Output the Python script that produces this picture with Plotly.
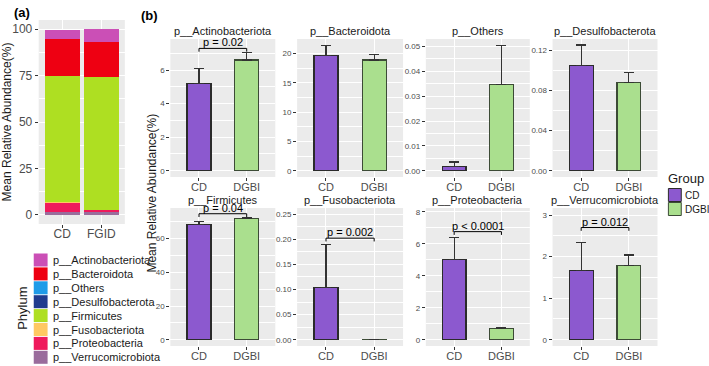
import plotly.graph_objects as go

# ---------------- data ----------------
phyla = ["p__Actinobacteriota", "p__Bacteroidota", "p__Others", "p__Desulfobacterota",
         "p__Firmicutes", "p__Fusobacteriota", "p__Proteobacteria", "p__Verrucomicrobiota"]
phylum_colors = ["#CB4FB6", "#EE0012", "#1F9BE8", "#203C8E",
                 "#AEDF22", "#FFC862", "#EF1A5C", "#9A6C9C"]
stack_groups = ["CD", "FGID"]
stack_cd = [5.2, 19.7, 0.0015, 0.104, 68.0, 0.105, 5.05, 1.67]
stack_fgid = [6.6, 18.9, 0.035, 0.087, 71.8, 0.0, 0.72, 1.77]

groups = ["CD", "DGBI"]
group_colors = ["#8C59CF", "#AADF8E"]
group_edge = ["#2B2B2B", "#3C4B36"]
mean_cd = [5.22, 19.7, 0.0018, 0.1045, 68.2, 0.1046, 5.03, 1.67]
sd_cd = [0.88, 1.7, 0.0017, 0.0205, 2.0, 0.085, 1.37, 0.67]
mean_dgbi = [6.6, 18.9, 0.0346, 0.088, 71.8, 0.0003, 0.72, 1.78]
sd_dgbi = [0.43, 0.9, 0.0157, 0.0095, 0.8, 0.0002, 0.06, 0.26]
y_dtick = [2, 5, 0.01, 0.04, 20, 0.05, 2, 1]
y_fmt = ["d", "d", ".2f", ".2f", "d", ".2f", "d", "d"]
y_upper = [7.85, 22.47, 0.053, 0.131, 78.2, 0.262, 8.25, 3.17]
p_labels = ["p = 0.02", None, None, None, "p = 0.04", "p = 0.002", "p < 0.0001", "p = 0.012"]
p_bracket = [7.29, None, None, None, 74.8, 0.202, 6.77, 2.70]

# ---------------- layout helpers ----------------
W, H = 709, 366
FONT = "Liberation Sans, Arial, sans-serif"
def px_x(v):
    return v / W
def px_y(v):
    return 1 - v / H

fig = go.Figure()

# Panel (a): stacked bars
for i in reversed(range(len(phyla))):
    fig.add_trace(go.Bar(
        x=[0, 1], y=[stack_cd[i], stack_fgid[i]], width=0.9,
        marker=dict(color=phylum_colors[i], line=dict(width=0)),
        xaxis="x", yaxis="y", showlegend=False, name=phyla[i]))

layout = dict(
    width=W, height=H, margin=dict(l=0, r=0, t=0, b=0),
    paper_bgcolor="white", plot_bgcolor="#EBEBEB",
    barmode="stack", showlegend=False,
    font=dict(family=FONT, color="#4D4D4D"),
)
layout["xaxis"] = dict(domain=[px_x(32), px_x(119)], anchor="y", range=[-0.6, 1.6],
                       tickvals=[0, 1], ticktext=stack_groups, showgrid=True, gridcolor="white",
                       gridwidth=1, zeroline=False, ticks="outside", ticklen=3, tickcolor="#333333",
                       tickfont=dict(size=12, color="#4D4D4D"), ticklabelstandoff=-4)
layout["yaxis"] = dict(domain=[px_y(224), px_y(20)], anchor="x", range=[-5, 105],
                       tickvals=[0, 25, 50, 75, 100], showgrid=True, gridcolor="white", gridwidth=1,
                       zeroline=False, ticks="outside", ticklen=3, tickcolor="#333333",
                       tickfont=dict(size=12, color="#4D4D4D"),
                       minor=dict(dtick=12.5, tick0=12.5, showgrid=True, gridcolor="white", gridwidth=0.5),
                       title=dict(text="Mean Relative Abundance(%)", font=dict(size=12, color="#1A1A1A"),
                                  standoff=4))

cols = [(165, 271), (293, 400), (423, 528), (551, 657)]
rows = [(39, 177), (208, 346)]
annotations = []
shapes = []

for k in range(8):
    r, c = divmod(k, 4)
    ax = k + 2
    xname, yname = f"x{ax}", f"y{ax}"
    x0, x1 = cols[c]
    y0, y1 = rows[r]
    up = y_upper[k]
    fig.add_trace(go.Bar(
        x=[0, 1], y=[mean_cd[k], mean_dgbi[k]], width=0.5,
        marker=dict(color=group_colors, line=dict(color=group_edge, width=1.2)),
        error_y=dict(type="data", array=[sd_cd[k], sd_dgbi[k]], arrayminus=[0, 0],
                     symmetric=False, color="#333333", thickness=1.2, width=5),
        xaxis=xname, yaxis=yname, showlegend=False, name=phyla[k]))
    layout[f"xaxis{ax}"] = dict(domain=[px_x(x0), px_x(x1)], anchor=yname, range=[-0.6, 1.6],
                                tickvals=[0, 1], ticktext=groups, showgrid=True, gridcolor="white",
                                gridwidth=1, zeroline=False, ticks="outside", ticklen=3,
                                tickcolor="#333333", tickfont=dict(size=11, color="#4D4D4D"),
                                ticklabelstandoff=-3)
    layout[f"yaxis{ax}"] = dict(domain=[px_y(y1), px_y(y0)], anchor=xname, range=[-up / 21, up],
                                tick0=0, dtick=y_dtick[k], tickformat=y_fmt[k],
                                showgrid=True, gridcolor="white", gridwidth=1, zeroline=False,
                                ticks="outside", ticklen=3, tickcolor="#333333",
                                tickfont=dict(size=8, color="#4D4D4D"),
                                minor=dict(dtick=y_dtick[k] / 2, showgrid=True, gridcolor="white",
                                           gridwidth=0.5))
    annotations.append(dict(text=phyla[k], xref="paper", yref="paper",
                            x=px_x((x0 + x1) / 2), y=px_y(y0 - 8), showarrow=False,
                            font=dict(size=11, color="#1A1A1A"), xanchor="center", yanchor="middle"))
    if p_labels[k]:
        b = p_bracket[k]
        tip = b - up * 0.025
        fig.add_trace(go.Scatter(x=[0, 0, 1, 1], y=[tip, b, b, tip], mode="lines",
                                 line=dict(color="black", width=1), xaxis=xname, yaxis=yname,
                                 showlegend=False, hoverinfo="skip"))
        annotations.append(dict(text=p_labels[k], xref=xname, yref=yname, x=0.5, y=b,
                                showarrow=False, yanchor="bottom", xanchor="center", yshift=-2,
                                font=dict(size=11, color="black")))

# (b) y-axis title
annotations.append(dict(text="Mean Relative Abundance(%)", xref="paper", yref="paper",
                        x=px_x(146), y=px_y(193), textangle=-90, showarrow=False,
                        font=dict(size=12, color="#1A1A1A"), xanchor="center", yanchor="middle"))
# panel labels
annotations.append(dict(text="<b>(a)</b>", xref="paper", yref="paper", x=px_x(5), y=px_y(12),
                        showarrow=False, xanchor="left", yanchor="middle",
                        font=dict(size=13, color="black")))
annotations.append(dict(text="<b>(b)</b>", xref="paper", yref="paper", x=px_x(133), y=px_y(15),
                        showarrow=False, xanchor="left", yanchor="middle",
                        font=dict(size=13, color="black")))

# Phylum legend (panel a)
annotations.append(dict(text="Phylum", xref="paper", yref="paper", x=px_x(15), y=px_y(308),
                        textangle=-90, showarrow=False, xanchor="center", yanchor="middle",
                        font=dict(size=13, color="#1A1A1A")))
for i, name in enumerate(phyla):
    yc = 260 + i * 13.9
    shapes.append(dict(type="rect", xref="paper", yref="paper", x0=px_x(27), x1=px_x(41),
                       y0=px_y(yc + 6.5), y1=px_y(yc - 6.5), fillcolor=phylum_colors[i],
                       line=dict(width=0)))
    annotations.append(dict(text=name, xref="paper", yref="paper", x=px_x(44), y=px_y(yc),
                            showarrow=False, xanchor="left", yanchor="middle",
                            font=dict(size=11, color="#1A1A1A")))

# Group legend (panel b)
annotations.append(dict(text="Group", xref="paper", yref="paper", x=px_x(666), y=px_y(178),
                        showarrow=False, xanchor="left", yanchor="middle",
                        font=dict(size=13, color="#1A1A1A")))
for i, g in enumerate(groups):
    yc = 195 + i * 14
    shapes.append(dict(type="rect", xref="paper", yref="paper", x0=px_x(668), x1=px_x(681),
                       y0=px_y(yc + 6.5), y1=px_y(yc - 6.5), fillcolor=group_colors[i],
                       line=dict(width=1, color=group_edge[i])))
    annotations.append(dict(text=g, xref="paper", yref="paper", x=px_x(683), y=px_y(yc),
                            showarrow=False, xanchor="left", yanchor="middle",
                            font=dict(size=10, color="#1A1A1A")))

layout["annotations"] = annotations
layout["shapes"] = shapes
fig.update_layout(**layout)
fig.write_html("out.html")
